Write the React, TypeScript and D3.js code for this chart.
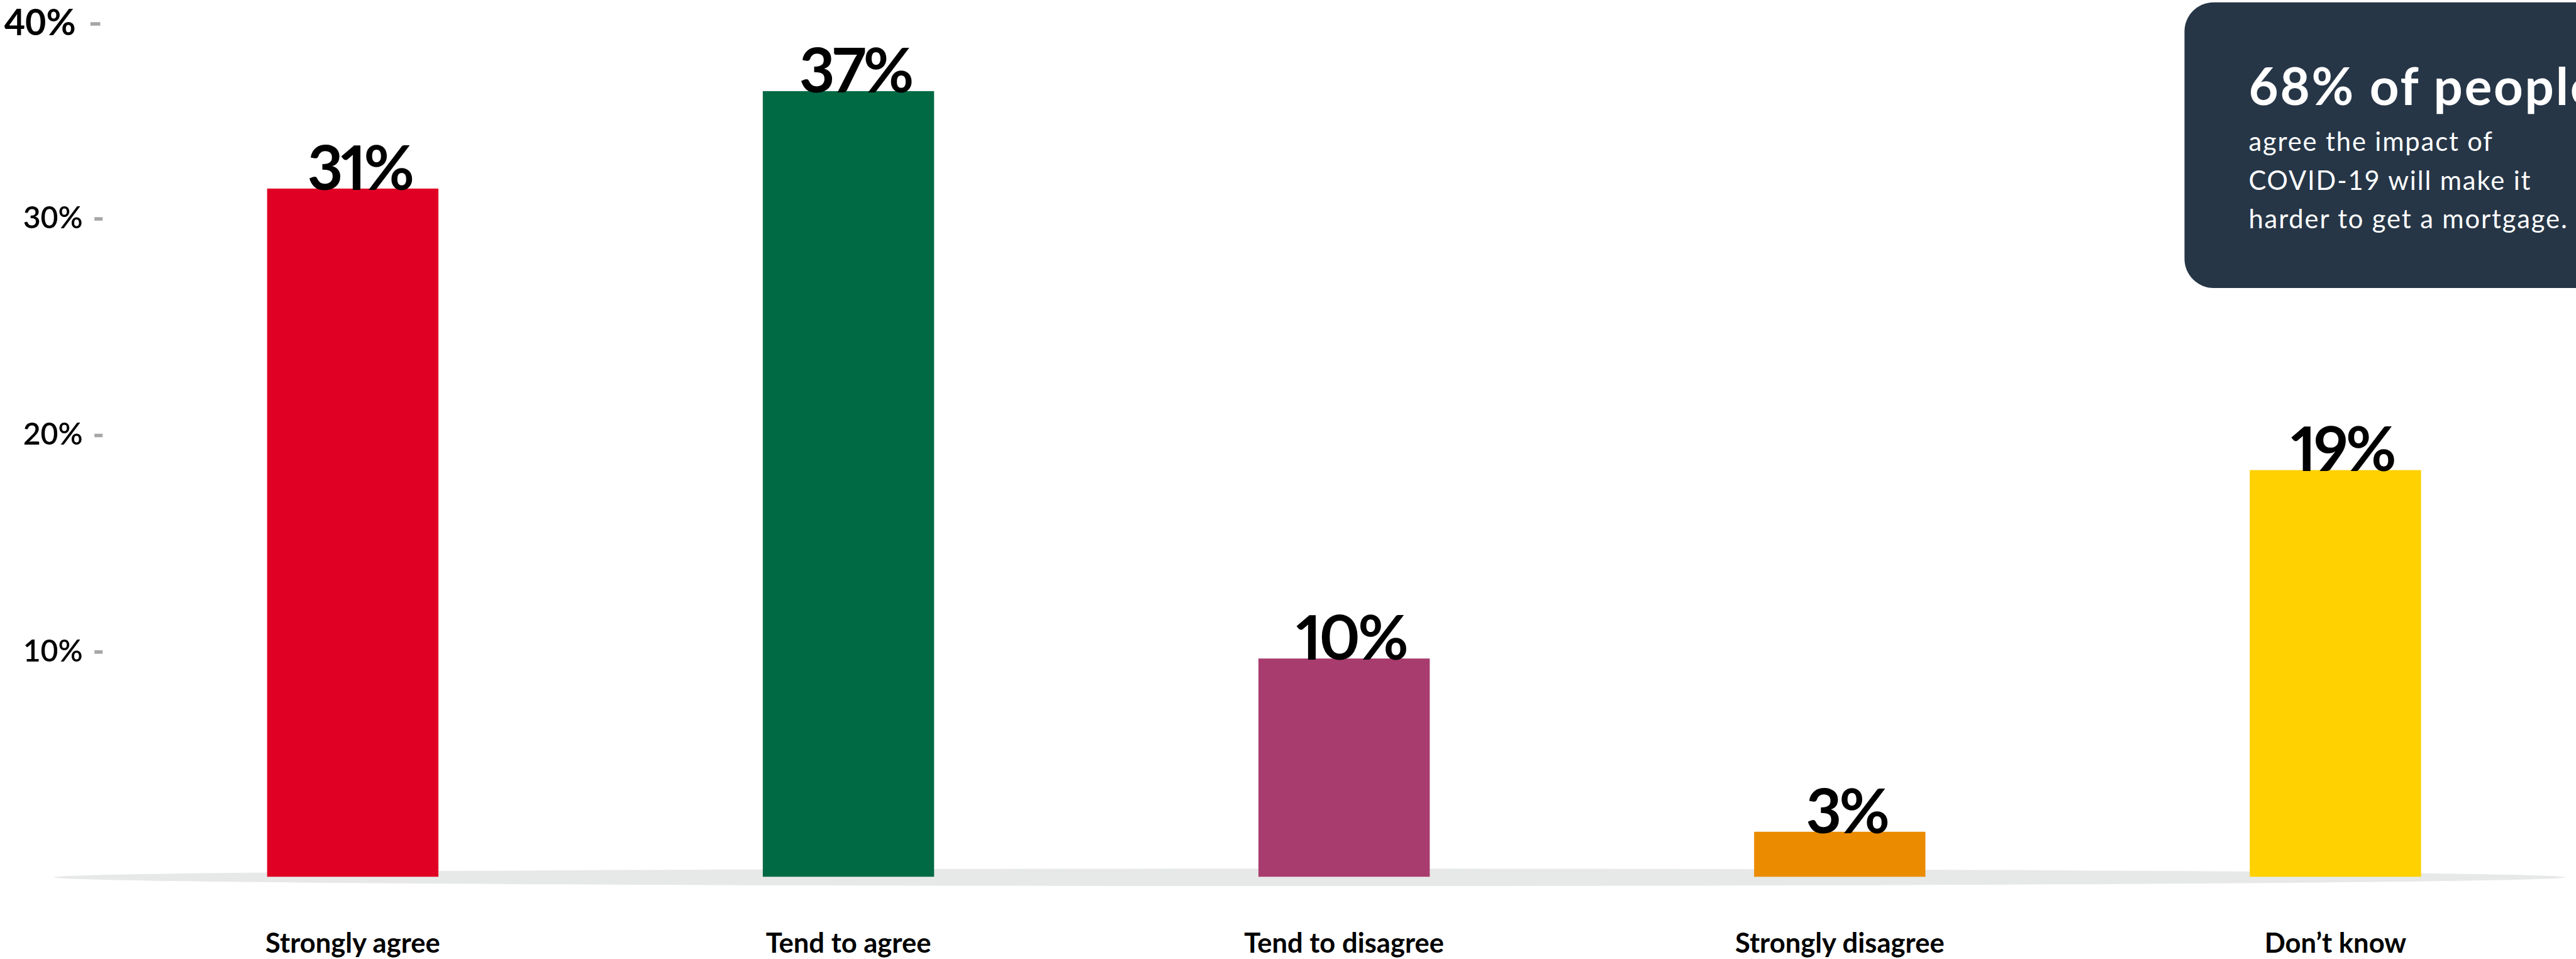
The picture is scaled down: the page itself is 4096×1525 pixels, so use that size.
import React from "react";
import * as d3 from "d3";

const categories = ["Strongly agree", "Tend to agree", "Tend to disagree", "Strongly disagree", "Don’t know"];
const values = [31.4, 35.9, 9.7, 1.7, 18.4];
const valueLabels = ["31%", "37%", "10%", "3%", "19%"];
const barColors = ["#e00024", "#006a45", "#a83c6e", "#eb8c00", "#ffd100"];
const yTicks = [10, 20, 30, 40];
const calloutHeadline = "68% of people";
const calloutLines = ["agree the impact of", "COVID-19 will make it", "harder to get a mortgage."];

const S = 0.927;

export default function App() {
  const x = d3
    .scaleBand<string>()
    .domain(categories)
    .range([180, 4431])
    .paddingInner(0.6544)
    .paddingOuter(0.3272);
  const y = d3.scaleLinear().domain([0, 40]).range([1490, 4]);
  const base = 1504;
  const bw = x.bandwidth();
  const font = "Lato, 'Open Sans', sans-serif";

  return (
    <svg
      width={4096}
      height={1525}
      style={{ position: "absolute", left: 0, top: 0, background: "#fff" }}
    >
      <g transform={`scale(${S})`}>
        {/* shadow */}
        <ellipse cx={2246} cy={1505} rx={2154} ry={15} fill="#e7e9e8" />
        {/* y axis ticks */}
        {yTicks.map((t, i) => {
          const top = i === yTicks.length - 1;
          const ty = Math.max(y(t), 41);
          return (
            <g key={t}>
              <rect x={top ? 155 : 162} y={ty - 3} width={top ? 17 : 14} height={6} fill="#a6a6a6" />
              <text
                x={top ? 130 : 142}
                y={ty}
                dy={top ? 19 : 16}
                textAnchor="end"
                fontFamily={font}
                fontWeight={top ? 700 : 600}
                fontSize={top ? 62 : 52}
                fill="#000"
              >
                {`${t}%`}
              </text>
            </g>
          );
        })}
        {/* bars */}
        {categories.map((c, i) => (
          <rect
            key={c}
            x={x(c)}
            y={y(values[i])}
            width={bw}
            height={base - y(values[i])}
            fill={barColors[i]}
          />
        ))}
        {/* value labels */}
        {categories.map((c, i) => (
          <text
            key={c}
            x={(x(c) as number) + bw / 2 + 12}
            y={y(values[i]) + 2}
            textAnchor="middle"
            fontFamily={font}
            fontWeight={700}
            fontSize={106}
            letterSpacing={-4}
            style={{ fontVariantNumeric: "proportional-nums" }}
            fill="#000"
          >
            {valueLabels[i]}
          </text>
        ))}
        {/* category labels */}
        {categories.map((c) => (
          <text
            key={c}
            x={(x(c) as number) + bw / 2}
            y={1634}
            textAnchor="middle"
            fontFamily={font}
            fontWeight={700}
            fontSize={47}
            fill="#000"
          >
            {c}
          </text>
        ))}
        {/* callout */}
        <rect x={3747} y={4} width={800} height={490} rx={50} ry={50} fill="#263647" />
        <text x={3857} y={180} fontFamily={font} fontWeight={700} fontSize={88} letterSpacing={3} fill="#fff">
          {calloutHeadline}
        </text>
        {calloutLines.map((l, i) => (
          <text
            key={l}
            x={3857}
            y={259 + i * 66.5}
            fontFamily={font}
            fontWeight={400}
            fontSize={45}
            letterSpacing={2}
            fill="#fff"
          >
            {l}
          </text>
        ))}
      </g>
    </svg>
  );
}
